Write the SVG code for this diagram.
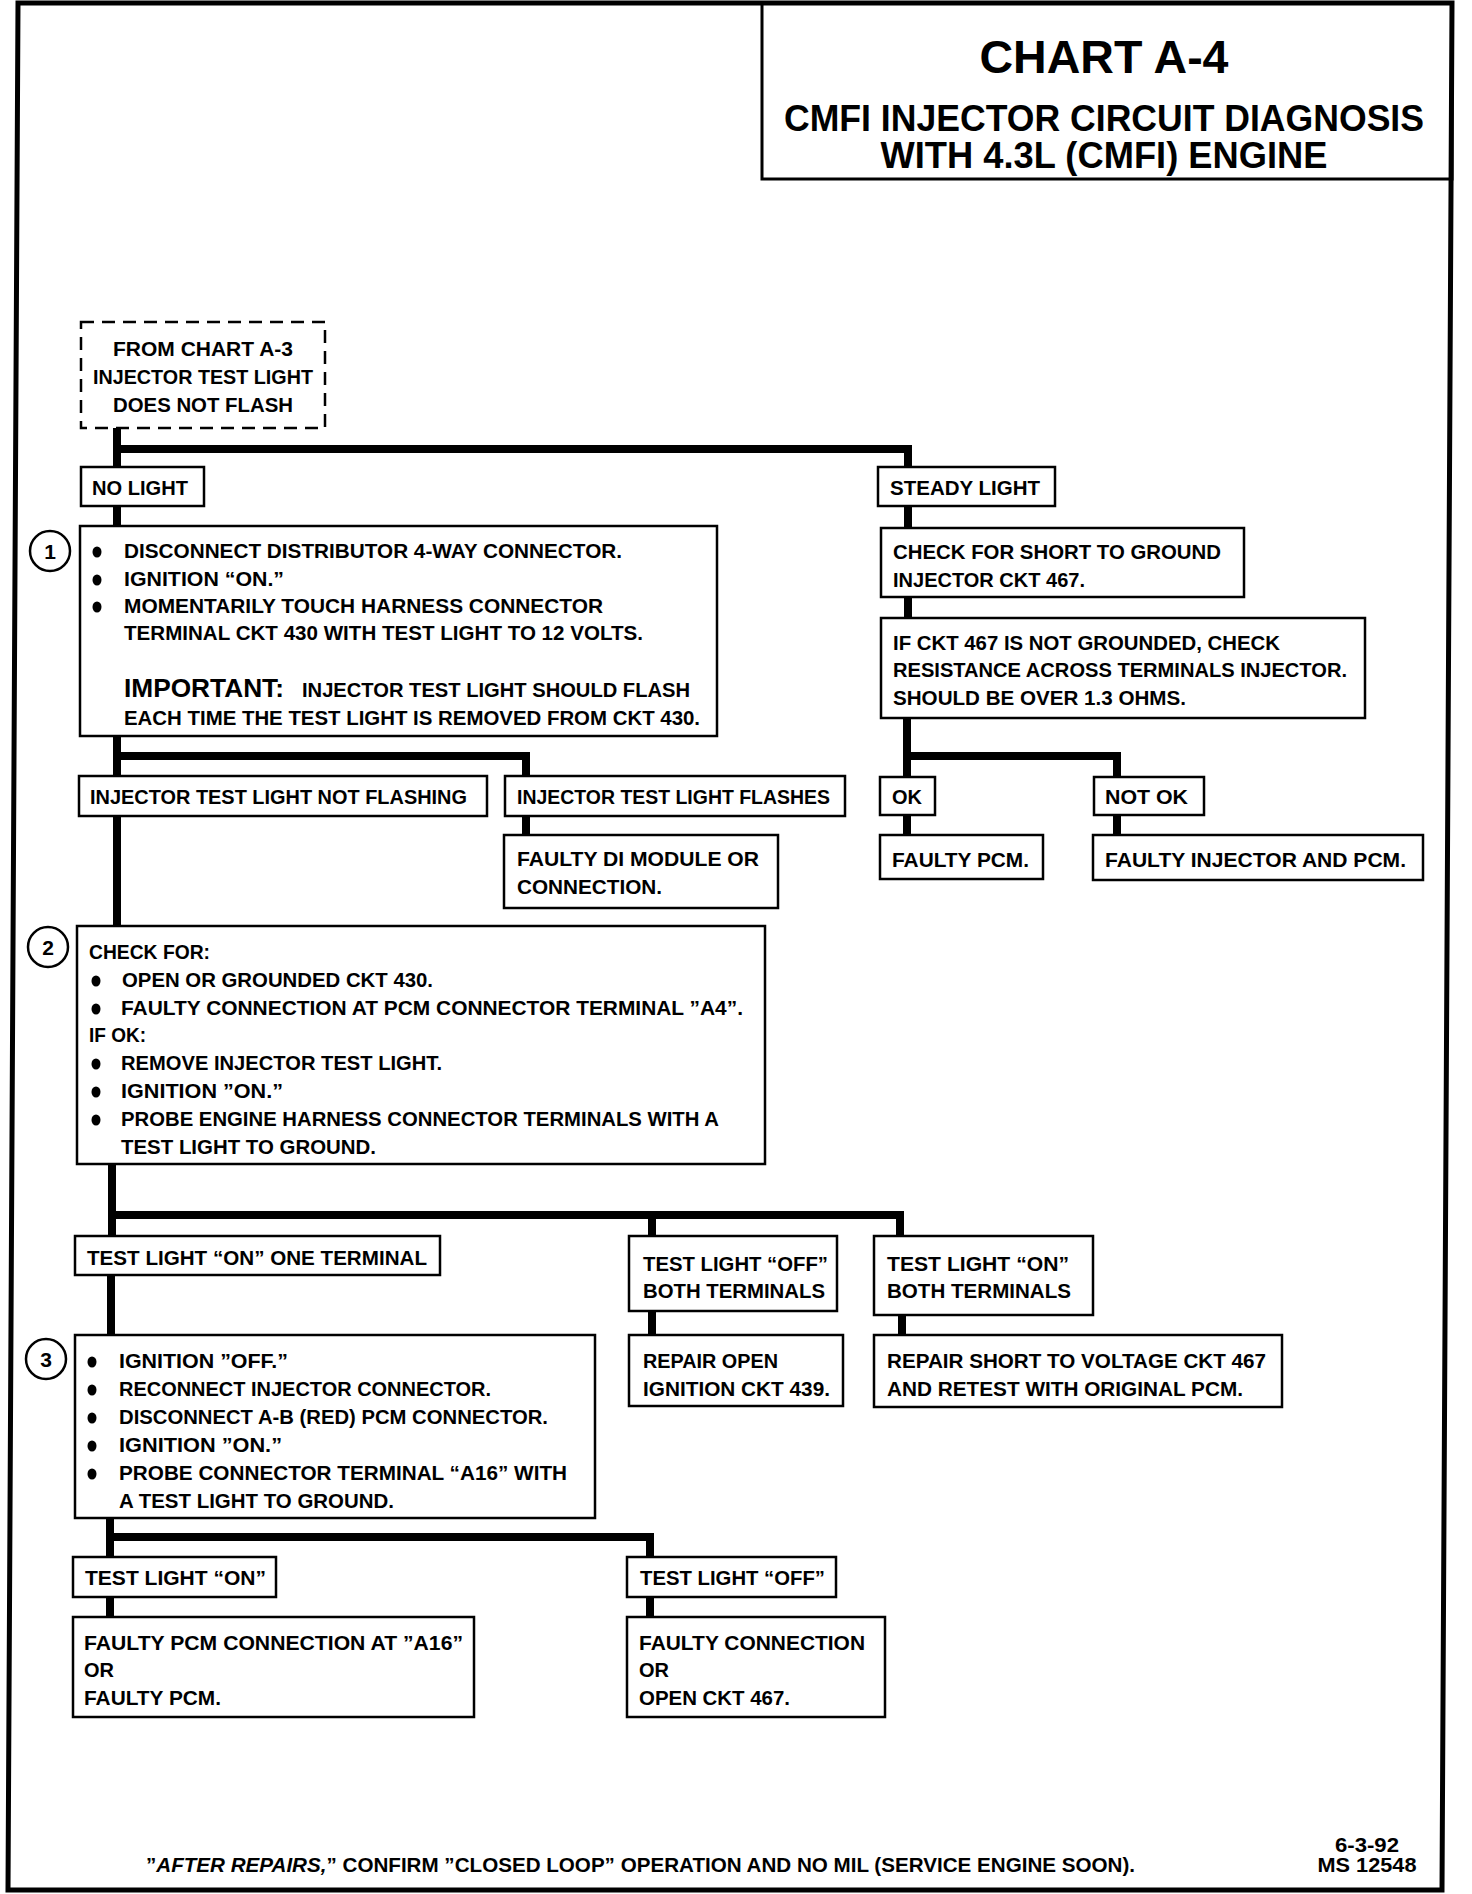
<svg xmlns="http://www.w3.org/2000/svg" width="1472" height="1894" viewBox="0 0 1472 1894">
<style>
.b{fill:#fff;stroke:#000;stroke-width:2.5}
.d{fill:none;stroke:#000;stroke-width:2.5;stroke-dasharray:13 8}
.c{fill:none;stroke:#000;stroke-width:8;stroke-linejoin:miter;stroke-linecap:butt}
.t{font-family:"Liberation Sans",Arial,sans-serif;font-weight:bold;font-size:19.5px;fill:#000}
.big{font-family:"Liberation Sans",Arial,sans-serif;font-weight:bold;font-size:25px;fill:#000}
.ttl{font-family:"Liberation Sans",Arial,sans-serif;font-weight:bold;fill:#000}
.n{font-family:"Liberation Sans",Arial,sans-serif;font-weight:bold;font-size:21px;fill:#000}
.bul{fill:#000}
</style>
<rect width="1472" height="1894" fill="#fff"/>
<path d="M18,3 L1452,3 L1442,1890 L8,1890 Z" fill="none" stroke="#000" stroke-width="5"/>

<g id="title">
<rect x="762" y="3" width="690" height="176" fill="none" stroke="#000" stroke-width="3"/>
<text class="ttl" x="1104" y="73" font-size="46" text-anchor="middle" textLength="249" lengthAdjust="spacingAndGlyphs">CHART A-4</text>
<text class="ttl" x="1104" y="131" font-size="36" text-anchor="middle" textLength="640" lengthAdjust="spacingAndGlyphs">CMFI INJECTOR CIRCUIT DIAGNOSIS</text>
<text class="ttl" x="1104" y="168" font-size="36" text-anchor="middle" textLength="447" lengthAdjust="spacingAndGlyphs">WITH 4.3L (CMFI) ENGINE</text>
</g>

<g id="connectors">
<path class="c" d="M117,428 V467 M113,449 H908 V467"/>
<path class="c" d="M117,506 V526"/>
<path class="c" d="M117,736 V776 M113,756 H526 V776"/>
<path class="c" d="M526,816 V835"/>
<path class="c" d="M117,816 V926"/>
<path class="c" d="M112,1164 V1236 M108,1215 H900 V1236 M652,1215 V1236"/>
<path class="c" d="M652,1311 V1335"/>
<path class="c" d="M902,1315 V1335"/>
<path class="c" d="M111,1275 V1335"/>
<path class="c" d="M110,1518 V1557 M106,1537 H650 V1557"/>
<path class="c" d="M110,1597 V1617"/>
<path class="c" d="M650,1597 V1617"/>
<path class="c" d="M908,506 V528"/>
<path class="c" d="M908,597 V618"/>
<path class="c" d="M907,718 V777 M903,756 H1117 V777"/>
<path class="c" d="M907,815 V835"/>
<path class="c" d="M1117,815 V835"/>
</g>

<g id="from-chart">
<rect class="d" x="81" y="322" width="244" height="106"/>
<text class="t" x="203" y="356" text-anchor="middle" textLength="180" lengthAdjust="spacingAndGlyphs">FROM CHART A-3</text>
<text class="t" x="203" y="384" text-anchor="middle" textLength="220" lengthAdjust="spacingAndGlyphs">INJECTOR TEST LIGHT</text>
<text class="t" x="203" y="412" text-anchor="middle" textLength="180" lengthAdjust="spacingAndGlyphs">DOES NOT FLASH</text>
</g>

<g id="no-light">
<rect class="b" x="81" y="467" width="123" height="39"/>
<text class="t" x="92" y="495" textLength="96" lengthAdjust="spacingAndGlyphs">NO LIGHT</text>
</g>

<g id="steady-light">
<rect class="b" x="878" y="467" width="177" height="39"/>
<text class="t" x="890" y="495" textLength="150" lengthAdjust="spacingAndGlyphs">STEADY LIGHT</text>
</g>

<g id="step1">
<circle cx="50" cy="551" r="20" fill="#fff" stroke="#000" stroke-width="2.5"/>
<text class="n" x="50" y="559" text-anchor="middle">1</text>
<rect class="b" x="80" y="526" width="637" height="210"/>
<ellipse class="bul" cx="97" cy="552" rx="4.5" ry="5.5"/>
<ellipse class="bul" cx="97" cy="580" rx="4.5" ry="5.5"/>
<ellipse class="bul" cx="97" cy="607" rx="4.5" ry="5.5"/>
<text class="t" x="124" y="558" textLength="498" lengthAdjust="spacingAndGlyphs">DISCONNECT DISTRIBUTOR 4-WAY CONNECTOR.</text>
<text class="t" x="124" y="586" textLength="160" lengthAdjust="spacingAndGlyphs">IGNITION “ON.”</text>
<text class="t" x="124" y="613" textLength="479" lengthAdjust="spacingAndGlyphs">MOMENTARILY TOUCH HARNESS CONNECTOR</text>
<text class="t" x="124" y="640" textLength="519" lengthAdjust="spacingAndGlyphs">TERMINAL CKT 430 WITH TEST LIGHT TO 12 VOLTS.</text>
<text class="big" x="124" y="697" textLength="160" lengthAdjust="spacingAndGlyphs">IMPORTANT:</text>
<text class="t" x="302" y="697" textLength="388" lengthAdjust="spacingAndGlyphs">INJECTOR TEST LIGHT SHOULD FLASH</text>
<text class="t" x="124" y="725" textLength="576" lengthAdjust="spacingAndGlyphs">EACH TIME THE TEST LIGHT IS REMOVED FROM CKT 430.</text>
</g>

<g id="not-flashing">
<rect class="b" x="79" y="776" width="408" height="40"/>
<text class="t" x="90" y="804" textLength="377" lengthAdjust="spacingAndGlyphs">INJECTOR TEST LIGHT NOT FLASHING</text>
</g>

<g id="flashes">
<rect class="b" x="505" y="776" width="340" height="40"/>
<text class="t" x="517" y="804" textLength="313" lengthAdjust="spacingAndGlyphs">INJECTOR TEST LIGHT FLASHES</text>
</g>

<g id="faulty-di">
<rect class="b" x="504" y="835" width="274" height="73"/>
<text class="t" x="517" y="866" textLength="242" lengthAdjust="spacingAndGlyphs">FAULTY DI MODULE OR</text>
<text class="t" x="517" y="894" textLength="145" lengthAdjust="spacingAndGlyphs">CONNECTION.</text>
</g>

<g id="step2">
<circle cx="48" cy="947" r="20" fill="#fff" stroke="#000" stroke-width="2.5"/>
<text class="n" x="48" y="955" text-anchor="middle">2</text>
<rect class="b" x="77" y="926" width="688" height="238"/>
<text class="t" x="89" y="959" textLength="121" lengthAdjust="spacingAndGlyphs">CHECK FOR:</text>
<ellipse class="bul" cx="96" cy="981" rx="4.5" ry="5.5"/>
<ellipse class="bul" cx="96" cy="1009" rx="4.5" ry="5.5"/>
<ellipse class="bul" cx="96" cy="1064" rx="4.5" ry="5.5"/>
<ellipse class="bul" cx="96" cy="1092" rx="4.5" ry="5.5"/>
<ellipse class="bul" cx="96" cy="1120" rx="4.5" ry="5.5"/>
<text class="t" x="122" y="987" textLength="311" lengthAdjust="spacingAndGlyphs">OPEN OR GROUNDED CKT 430.</text>
<text class="t" x="121" y="1015" textLength="622" lengthAdjust="spacingAndGlyphs">FAULTY CONNECTION AT PCM CONNECTOR TERMINAL ”A4”.</text>
<text class="t" x="89" y="1042" textLength="57" lengthAdjust="spacingAndGlyphs">IF OK:</text>
<text class="t" x="121" y="1070" textLength="321" lengthAdjust="spacingAndGlyphs">REMOVE INJECTOR TEST LIGHT.</text>
<text class="t" x="121" y="1098" textLength="162" lengthAdjust="spacingAndGlyphs">IGNITION ”ON.”</text>
<text class="t" x="121" y="1126" textLength="598" lengthAdjust="spacingAndGlyphs">PROBE ENGINE HARNESS CONNECTOR TERMINALS WITH A</text>
<text class="t" x="121" y="1154" textLength="255" lengthAdjust="spacingAndGlyphs">TEST LIGHT TO GROUND.</text>
</g>

<g id="on-one">
<rect class="b" x="75" y="1236" width="365" height="39"/>
<text class="t" x="87" y="1265" textLength="340" lengthAdjust="spacingAndGlyphs">TEST LIGHT “ON” ONE TERMINAL</text>
</g>

<g id="off-both">
<rect class="b" x="629" y="1236" width="208" height="75"/>
<text class="t" x="643" y="1271" textLength="185" lengthAdjust="spacingAndGlyphs">TEST LIGHT “OFF”</text>
<text class="t" x="643" y="1298" textLength="182" lengthAdjust="spacingAndGlyphs">BOTH TERMINALS</text>
</g>

<g id="on-both">
<rect class="b" x="874" y="1236" width="219" height="79"/>
<text class="t" x="887" y="1271" textLength="182" lengthAdjust="spacingAndGlyphs">TEST LIGHT “ON”</text>
<text class="t" x="887" y="1298" textLength="184" lengthAdjust="spacingAndGlyphs">BOTH TERMINALS</text>
</g>

<g id="repair-open">
<rect class="b" x="629" y="1335" width="214" height="71"/>
<text class="t" x="643" y="1368" textLength="135" lengthAdjust="spacingAndGlyphs">REPAIR OPEN</text>
<text class="t" x="643" y="1396" textLength="187" lengthAdjust="spacingAndGlyphs">IGNITION CKT 439.</text>
</g>

<g id="repair-short">
<rect class="b" x="874" y="1335" width="408" height="72"/>
<text class="t" x="887" y="1368" textLength="379" lengthAdjust="spacingAndGlyphs">REPAIR SHORT TO VOLTAGE CKT 467</text>
<text class="t" x="887" y="1396" textLength="356" lengthAdjust="spacingAndGlyphs">AND RETEST WITH ORIGINAL PCM.</text>
</g>

<g id="step3">
<circle cx="46" cy="1359" r="20" fill="#fff" stroke="#000" stroke-width="2.5"/>
<text class="n" x="46" y="1367" text-anchor="middle">3</text>
<rect class="b" x="75" y="1335" width="520" height="183"/>
<ellipse class="bul" cx="92" cy="1362" rx="4.5" ry="5.5"/>
<ellipse class="bul" cx="92" cy="1390" rx="4.5" ry="5.5"/>
<ellipse class="bul" cx="92" cy="1418" rx="4.5" ry="5.5"/>
<ellipse class="bul" cx="92" cy="1446" rx="4.5" ry="5.5"/>
<ellipse class="bul" cx="92" cy="1474" rx="4.5" ry="5.5"/>
<text class="t" x="119" y="1368" textLength="169" lengthAdjust="spacingAndGlyphs">IGNITION ”OFF.”</text>
<text class="t" x="119" y="1396" textLength="372" lengthAdjust="spacingAndGlyphs">RECONNECT INJECTOR CONNECTOR.</text>
<text class="t" x="119" y="1424" textLength="429" lengthAdjust="spacingAndGlyphs">DISCONNECT A-B (RED) PCM CONNECTOR.</text>
<text class="t" x="119" y="1452" textLength="163" lengthAdjust="spacingAndGlyphs">IGNITION ”ON.”</text>
<text class="t" x="119" y="1480" textLength="448" lengthAdjust="spacingAndGlyphs">PROBE CONNECTOR TERMINAL “A16” WITH</text>
<text class="t" x="119" y="1508" textLength="275" lengthAdjust="spacingAndGlyphs">A TEST LIGHT TO GROUND.</text>
</g>

<g id="light-on">
<rect class="b" x="73" y="1557" width="203" height="40"/>
<text class="t" x="85" y="1585" textLength="181" lengthAdjust="spacingAndGlyphs">TEST LIGHT “ON”</text>
</g>

<g id="light-off">
<rect class="b" x="627" y="1557" width="209" height="40"/>
<text class="t" x="640" y="1585" textLength="185" lengthAdjust="spacingAndGlyphs">TEST LIGHT “OFF”</text>
</g>

<g id="faulty-pcm-conn">
<rect class="b" x="73" y="1617" width="401" height="100"/>
<text class="t" x="84" y="1650" textLength="379" lengthAdjust="spacingAndGlyphs">FAULTY PCM CONNECTION AT ”A16”</text>
<text class="t" x="84" y="1677" textLength="30" lengthAdjust="spacingAndGlyphs">OR</text>
<text class="t" x="84" y="1705" textLength="137" lengthAdjust="spacingAndGlyphs">FAULTY PCM.</text>
</g>

<g id="faulty-conn">
<rect class="b" x="627" y="1617" width="258" height="100"/>
<text class="t" x="639" y="1650" textLength="226" lengthAdjust="spacingAndGlyphs">FAULTY CONNECTION</text>
<text class="t" x="639" y="1677" textLength="30" lengthAdjust="spacingAndGlyphs">OR</text>
<text class="t" x="639" y="1705" textLength="151" lengthAdjust="spacingAndGlyphs">OPEN CKT 467.</text>
</g>

<g id="check-short">
<rect class="b" x="881" y="528" width="363" height="69"/>
<text class="t" x="893" y="559" textLength="328" lengthAdjust="spacingAndGlyphs">CHECK FOR SHORT TO GROUND</text>
<text class="t" x="893" y="587" textLength="192" lengthAdjust="spacingAndGlyphs">INJECTOR CKT 467.</text>
</g>

<g id="check-resistance">
<rect class="b" x="881" y="618" width="484" height="100"/>
<text class="t" x="893" y="650" textLength="387" lengthAdjust="spacingAndGlyphs">IF CKT 467 IS NOT GROUNDED, CHECK</text>
<text class="t" x="893" y="677" textLength="454" lengthAdjust="spacingAndGlyphs">RESISTANCE ACROSS TERMINALS INJECTOR.</text>
<text class="t" x="893" y="705" textLength="293" lengthAdjust="spacingAndGlyphs">SHOULD BE OVER 1.3 OHMS.</text>
</g>

<g id="ok">
<rect class="b" x="880" y="777" width="55" height="38"/>
<text class="t" x="892" y="804" textLength="30" lengthAdjust="spacingAndGlyphs">OK</text>
</g>

<g id="not-ok">
<rect class="b" x="1094" y="777" width="110" height="38"/>
<text class="t" x="1105" y="804" textLength="83" lengthAdjust="spacingAndGlyphs">NOT OK</text>
</g>

<g id="faulty-pcm">
<rect class="b" x="880" y="835" width="163" height="44"/>
<text class="t" x="892" y="867" textLength="137" lengthAdjust="spacingAndGlyphs">FAULTY PCM.</text>
</g>

<g id="faulty-injector">
<rect class="b" x="1093" y="835" width="330" height="45"/>
<text class="t" x="1105" y="867" textLength="301" lengthAdjust="spacingAndGlyphs">FAULTY INJECTOR AND PCM.</text>
</g>

<g id="footer">
<text class="t" x="146" y="1872" textLength="989" lengthAdjust="spacingAndGlyphs">”<tspan font-style="italic">AFTER REPAIRS,</tspan>” CONFIRM ”CLOSED LOOP” OPERATION AND NO MIL (SERVICE ENGINE SOON).</text>
<text class="t" x="1367" y="1852" text-anchor="middle" textLength="64" lengthAdjust="spacingAndGlyphs">6-3-92</text>
<text class="t" x="1367" y="1872" text-anchor="middle" textLength="99" lengthAdjust="spacingAndGlyphs">MS 12548</text>
</g>
</svg>
